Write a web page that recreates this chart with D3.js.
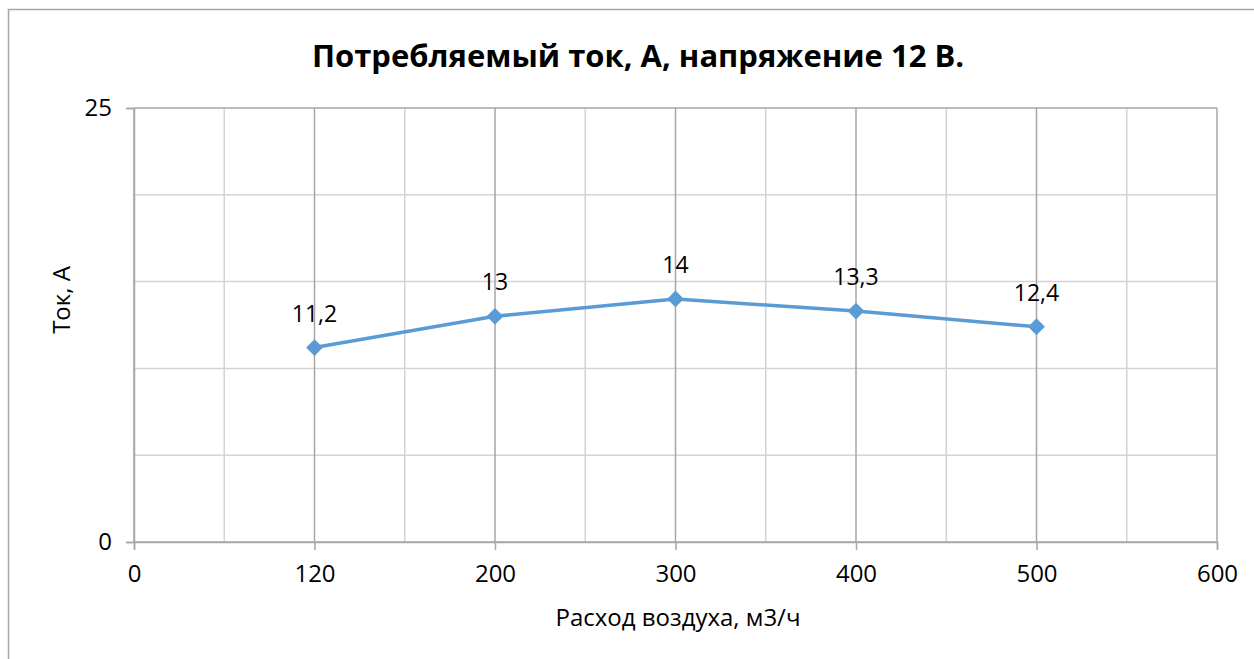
<!DOCTYPE html>
<html>
<head>
<meta charset="utf-8">
<script src="https://cdn.jsdelivr.net/npm/d3@7"></script>
<style>
  body { margin: 0; background: #fff; }
  svg { display: block; font-family: "Open Sans", "Noto Sans", sans-serif; }
</style>
</head>
<body>
<script>
// data
var categories = ["0", "120", "200", "300", "400", "500", "600"];
var flowValues = ["120", "200", "300", "400", "500"];
var currentValues = [11.2, 13, 14, 13.3, 12.4];
var currentLabels = ["11,2", "13", "14", "13,3", "12,4"];
var yTickValues = [0, 25];
var yGridValues = [0, 5, 10, 15, 20, 25];

var titleText = "Потребляемый ток, А, напряжение 12 В.";
var xTitle = "Расход воздуха, м3/ч";
var yTitle = "Ток, А";

var W = 1254, H = 659;
var plot = { left: 134, right: 1217, top: 108, bottom: 542 };

var svg = d3.select("body").append("svg")
  .attr("width", W)
  .attr("height", H);

// chart frame (runs off the right and bottom edge)
svg.append("rect")
  .attr("x", 8.5).attr("y", 9.5)
  .attr("width", W + 20).attr("height", H + 20)
  .attr("fill", "#fff")
  .attr("stroke", "#a6a6a6")
  .attr("stroke-width", 1.5);

var x = d3.scalePoint().domain(categories).range([plot.left, plot.right]);
var y = d3.scaleLinear().domain([0, 25]).range([plot.bottom, plot.top]);
var step = x.step();

// minor vertical gridlines, halfway between categories
var g = svg.append("g").attr("class", "grid");
g.selectAll("line.vminor")
  .data(categories.slice(0, -1))
  .enter().append("line")
  .attr("class", "vminor")
  .attr("x1", function(d) { return x(d) + step / 2; })
  .attr("x2", function(d) { return x(d) + step / 2; })
  .attr("y1", plot.top).attr("y2", plot.bottom)
  .attr("stroke", "#d4d4d4").attr("stroke-width", 1.5);

// horizontal gridlines
g.selectAll("line.hgrid")
  .data(yGridValues)
  .enter().append("line")
  .attr("class", "hgrid")
  .attr("x1", plot.left).attr("x2", plot.right)
  .attr("y1", function(d) { return y(d); })
  .attr("y2", function(d) { return y(d); })
  .attr("stroke", function(d) { return yTickValues.indexOf(d) >= 0 ? "#a6a6a6" : "#d4d4d4"; })
  .attr("stroke-width", 1.5);

// major vertical gridlines at each category
g.selectAll("line.vmajor")
  .data(categories)
  .enter().append("line")
  .attr("class", "vmajor")
  .attr("x1", function(d) { return x(d); })
  .attr("x2", function(d) { return x(d); })
  .attr("y1", plot.top).attr("y2", plot.bottom)
  .attr("stroke", "#a6a6a6").attr("stroke-width", 1.5);

// x axis
var xAxis = svg.append("g")
  .attr("transform", "translate(0," + plot.bottom + ")")
  .call(d3.axisBottom(x).tickSize(8).tickPadding(15));
xAxis.select(".domain").attr("stroke", "#a6a6a6").attr("stroke-width", 1.5);
xAxis.selectAll(".tick line").attr("stroke", "#a6a6a6").attr("stroke-width", 1.5);
xAxis.selectAll(".tick text")
  .attr("font-size", 24).attr("fill", "#000")
  .attr("font-family", "'Open Sans', sans-serif");

// y axis
var yAxis = svg.append("g")
  .attr("transform", "translate(" + plot.left + ",0)")
  .call(d3.axisLeft(y).tickValues(yTickValues).tickSize(8).tickPadding(14));
yAxis.select(".domain").attr("stroke", "#a6a6a6").attr("stroke-width", 1.5);
yAxis.selectAll(".tick line").attr("stroke", "#a6a6a6").attr("stroke-width", 1.5);
yAxis.selectAll(".tick text")
  .attr("font-size", 24).attr("fill", "#000")
  .attr("font-family", "'Open Sans', sans-serif");

// series line
var pts = flowValues.map(function(d, i) { return { cat: d, v: currentValues[i], lab: currentLabels[i] }; });
svg.append("path")
  .datum(pts)
  .attr("fill", "none")
  .attr("stroke", "#5b9bd5")
  .attr("stroke-width", 3.5)
  .attr("stroke-linejoin", "round")
  .attr("d", d3.line().x(function(d) { return x(d.cat); }).y(function(d) { return y(d.v); }));

// diamond markers
svg.selectAll("path.marker")
  .data(pts)
  .enter().append("path")
  .attr("class", "marker")
  .attr("d", d3.symbol().type(d3.symbolDiamond2).size(180))
  .attr("transform", function(d) { return "translate(" + x(d.cat) + "," + y(d.v) + ")"; })
  .attr("fill", "#5b9bd5");

// data labels
svg.selectAll("text.dlabel")
  .data(pts)
  .enter().append("text")
  .attr("class", "dlabel")
  .attr("x", function(d) { return x(d.cat); })
  .attr("y", function(d) { return y(d.v) - 26; })
  .attr("text-anchor", "middle")
  .attr("font-size", 23)
  .text(function(d) { return d.lab; });

// titles
svg.append("text")
  .attr("x", 638).attr("y", 67)
  .attr("text-anchor", "middle")
  .attr("font-size", 31)
  .attr("font-weight", "bold")
  .text(titleText);

svg.append("text")
  .attr("x", 678).attr("y", 626)
  .attr("text-anchor", "middle")
  .attr("font-size", 24)
  .text(xTitle);

svg.append("text")
  .attr("transform", "translate(70,300) rotate(-90)")
  .attr("text-anchor", "middle")
  .attr("font-size", 24)
  .text(yTitle);
</script>
</body>
</html>
